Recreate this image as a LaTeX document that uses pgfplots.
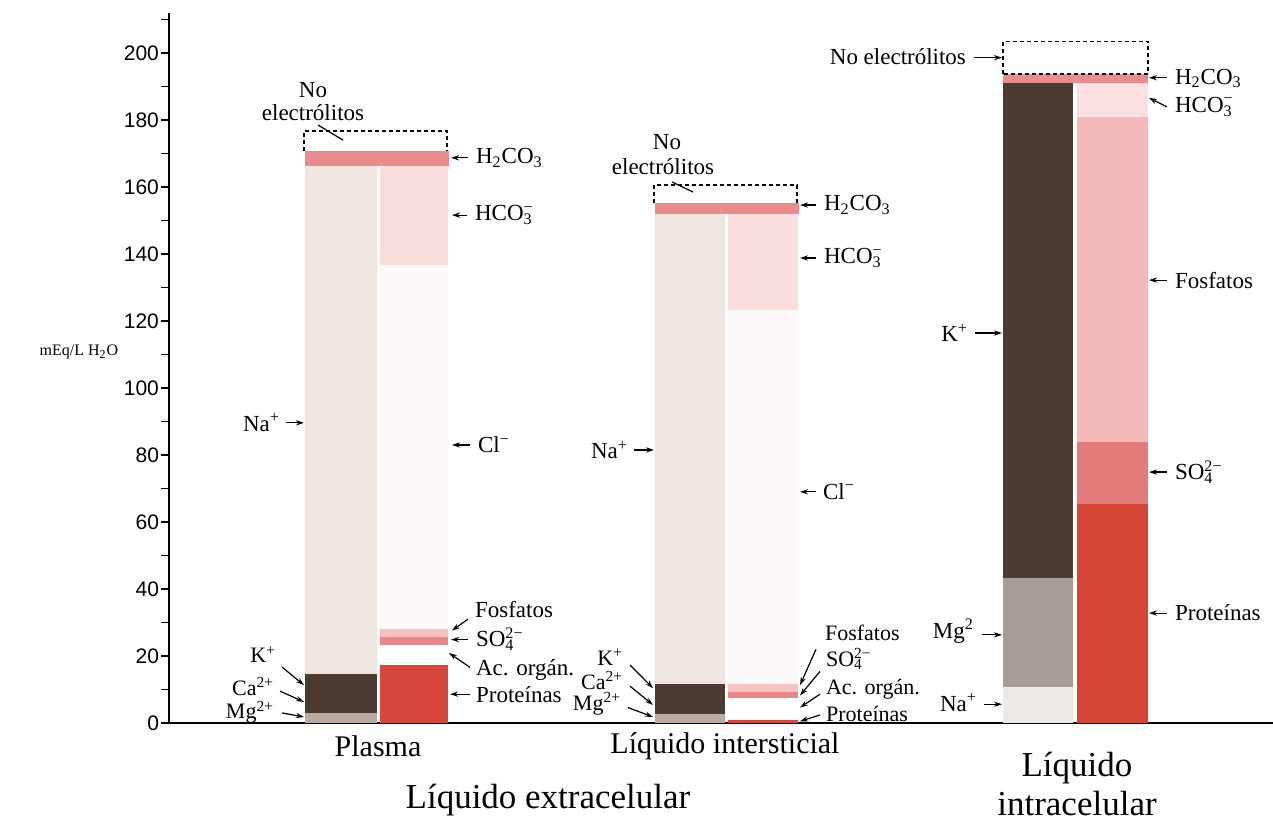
\documentclass[border=0pt]{standalone}
\usepackage{pgfplots}
\pgfplotsset{compat=1.18}
\usepackage{fontspec}
\setmainfont{Liberation Serif}
\newfontfamily\sansfont{Liberation Sans}
\usetikzlibrary{arrows.meta}

\definecolor{naC}{HTML}{EFE6E0}
\definecolor{darkC}{HTML}{4B3B32}
\definecolor{mgC}{HTML}{B9ABA3}
\definecolor{mgI}{HTML}{A79D97}
\definecolor{naI}{HTML}{EFE9E5}
\definecolor{protC}{HTML}{D8473D}
\definecolor{protI}{HTML}{D44535}
\definecolor{so4C}{HTML}{EA8589}
\definecolor{so4I}{HTML}{E27C7C}
\definecolor{fosC}{HTML}{F6C2C2}
\definecolor{fosI}{HTML}{F4B9B9}
\definecolor{clC}{HTML}{FDF9F8}
\definecolor{hco3C}{HTML}{FADDDD}
\definecolor{hco3I}{HTML}{FAE0E0}
\definecolor{h2co3C}{HTML}{EA8C8E}

\newcommand{\seg}[5]{\addplot[draw=none,fill=#5,forget plot] coordinates {(#1,#3) (#2,#3) (#2,#4) (#1,#4)} -- cycle;}
\newcommand{\lbl}{\fontsize{11.5}{11.5}\selectfont}
\newcommand{\lbs}{\fontsize{11}{11}\selectfont}
\newcommand{\sob}{SO\rlap{\textsubscript{4}}\textsuperscript{2−}}
\newcommand{\hco}{HCO\rlap{\textsubscript{3}}\textsuperscript{−}}
\newcommand{\hdos}{H\textsubscript{2}CO\textsubscript{3}}

\tikzset{arr/.style={line width=0.6pt,-{Stealth[length=4pt,width=2.6pt]}}}

\begin{document}
\begin{tikzpicture}
\path[use as bounding box] (0,0) rectangle (636.5pt,411pt);
\begin{axis}[
  at={(84.5pt,49.5pt)}, anchor=south west,
  scale only axis, width=552pt, height=355.1pt,
  xmin=169, xmax=1273, ymin=0, ymax=212,
  clip=false,
  axis lines*=left,
  axis line style={-},
  x axis line style={line width=0.7pt},
  y axis line style={line width=1pt},
  xtick=\empty,
  ytick={0,20,...,200},
  minor ytick={10,30,...,210},
  tick align=outside,
  major tick length=4pt, minor tick length=4pt,
  tick style={black, line width=0.8pt},
  /pgf/number format/assume math mode=true,
  yticklabel style={font=\sansfont\fontsize{10.5}{12}\selectfont, xshift=2.5pt},
]
% ---------- Plasma ----------
\seg{305}{377}{0}{3}{mgC}
\seg{305}{377}{3}{14.6}{darkC}
\seg{305}{377}{14.6}{166.3}{naC}
\seg{380}{448}{0}{17.3}{protC}
\seg{380}{448}{23.3}{25.8}{so4C}
\seg{380}{448}{25.8}{28.2}{fosC}
\seg{380}{448}{28.2}{136.7}{clC}
\seg{380}{448}{136.7}{166.3}{hco3C}
\seg{305}{449}{166.3}{170.8}{h2co3C}
\addplot[black, line width=0.7pt, dash pattern=on 2pt off 1.5pt, forget plot] coordinates {(304,170.8) (304,176.7) (447,176.7) (447,170.8)};
% ---------- Intersticial ----------
\seg{655}{725}{0}{2.7}{mgC}
\seg{655}{725}{2.7}{11.6}{darkC}
\seg{655}{725}{11.6}{151.8}{naC}
\seg{728}{798}{0}{1.0}{protC}
\seg{728}{798}{7.5}{9.2}{so4C}
\seg{728}{798}{9.2}{11.6}{fosC}
\seg{728}{798}{11.6}{123.3}{clC}
\seg{728}{798}{123.3}{151.8}{hco3C}
\seg{655}{799}{151.8}{155.1}{h2co3C}
\addplot[black, line width=0.7pt, dash pattern=on 2pt off 1.5pt, forget plot] coordinates {(654,155.1) (654,160.6) (797,160.6) (797,155.1)};
% ---------- Intracelular ----------
\seg{1003}{1073}{0}{10.7}{naI}
\seg{1003}{1073}{10.7}{43.3}{mgI}
\seg{1003}{1073}{43.3}{191.1}{darkC}
\seg{1077}{1148}{0}{65.4}{protI}
\seg{1077}{1148}{65.4}{84}{so4I}
\seg{1077}{1148}{84}{181}{fosI}
\seg{1077}{1148}{181}{191.1}{hco3I}
\seg{1003}{1148}{191.1}{193.7}{h2co3C}
\addplot[black, line width=0.7pt, dash pattern=on 2pt off 1.5pt, forget plot] coordinates {(1003,193.7) (1003,203.4) (1148,203.4) (1148,193.7) (1003,193.7)};

% ---------- Plasma labels ----------
\node[font=\lbl] at (313,189.0) {No};
\node[font=\lbl] at (313,182.1) {electrólitos};
\draw[line width=0.6pt] (318,178.5) -- (343,174.0);
\draw[arr] (468,168.7) -- (451,168.7);
\node[font=\lbl,anchor=west] at (469,168.7) {\hdos};
\draw[arr] (467,151.6) -- (452,151.6);
\node[font=\lbl,anchor=west] at (468,151.6) {\hco};
\draw[arr] (470,83.0) -- (452,83.0);
\node[font=\lbl,anchor=west] at (471,83.0) {Cl\textsuperscript{−}};
\draw[arr] (468,31.0) -- (452,27.6);
\node[font=\lbl,anchor=west] at (468,34.0) {Fosfatos};
\draw[arr] (468,24.9) -- (451,24.9);
\node[font=\lbl,anchor=west] at (469,25.1) {\sob};
\draw[arr] (470,16.6) -- (449,20.9);
\node[font=\lbl,anchor=west] at (469,15.7) {Ac. orgán.};
\draw[arr] (470,8.6) -- (450,8.6);
\node[font=\lbl,anchor=west] at (469,8.6) {Proteínas};
\node[font=\lbl,anchor=east] at (287,89.6) {Na\textsuperscript{+}};
\draw[arr] (286,89.6) -- (304,89.6);
\node[font=\lbs,anchor=east] at (283,20.4) {K\textsuperscript{+}};
\draw[arr] (282,16.7) -- (304,11.3);
\node[font=\lbs,anchor=east] at (281,11.0) {Ca\textsuperscript{2+}};
\draw[arr] (280,9.5) -- (304,6.3);
\node[font=\lbs,anchor=east] at (281,3.2) {Mg\textsuperscript{2+}};
\draw[arr] (282,3.0) -- (304,1.8);

% ---------- Intersticial labels ----------
\node[font=\lbl] at (667,173.4) {No};
\node[font=\lbl] at (663,166.0) {electrólitos};
\draw[line width=0.6pt] (672,161.5) -- (693,158.5);
\draw[arr] (816,154.6) -- (800,154.6);
\node[font=\lbl,anchor=west] at (817,154.6) {\hdos};
\draw[arr] (816,138.8) -- (800,138.8);
\node[font=\lbl,anchor=west] at (817,138.8) {\hco};
\draw[arr] (816,69.0) -- (800,69.0);
\node[font=\lbl,anchor=west] at (816,69.0) {Cl\textsuperscript{−}};
\node[font=\lbl,anchor=east] at (635,81.5) {Na\textsuperscript{+}};
\draw[arr] (634,81.5) -- (654,81.5);
\node[font=\lbs,anchor=east] at (630,19.6) {K\textsuperscript{+}};
\draw[arr] (630,17.3) -- (653,10.4);
\node[font=\lbs,anchor=east] at (630,12.6) {Ca\textsuperscript{2+}};
\draw[arr] (630,11.0) -- (653,5.4);
\node[font=\lbs,anchor=east] at (628,5.6) {Mg\textsuperscript{2+}};
\draw[arr] (628,4.6) -- (653,1.8);
\node[font=\lbs,anchor=west] at (818,27.0) {Fosfatos};
\draw[arr] (816,22.0) -- (800,11.3);
\node[font=\lbs,anchor=west] at (819,19.2) {\sob};
\draw[arr] (820,15.4) -- (800,8.2);
\node[font=\lbs,anchor=west] at (819,10.2) {Ac. orgán.};
\draw[arr] (820,8.6) -- (800,4.6);
\node[font=\lbs,anchor=west] at (819,2.8) {Proteínas};
\draw[arr] (820,2.4) -- (800,0.5);

% ---------- Intracelular labels ----------
\node[font=\lbl,anchor=east] at (973,198.8) {No electrólitos};
\draw[arr] (974,198.6) -- (1002,198.6);
\draw[arr] (1167,192.6) -- (1149,192.6);
\node[font=\lbl,anchor=west] at (1168,192.4) {\hdos};
\draw[arr] (1167,183.9) -- (1149,186.6);
\node[font=\lbl,anchor=west] at (1168,183.9) {\hco};
\draw[arr] (1167,132.2) -- (1149,132.2);
\node[font=\lbl,anchor=west] at (1168,132.2) {Fosfatos};
\node[font=\lbl,anchor=east] at (975,116.4) {K\textsuperscript{+}};
\draw[arr] (975,116.4) -- (1002,116.4);
\draw[arr] (1167,74.9) -- (1149,74.9);
\node[font=\lbl,anchor=west] at (1168,74.9) {\sob};
\draw[arr] (1167,32.8) -- (1149,32.8);
\node[font=\lbl,anchor=west] at (1168,32.8) {Proteínas};
\node[font=\lbl,anchor=east] at (981,27.4) {Mg\textsuperscript{2}};
\draw[arr] (982,26.3) -- (1002,26.3);
\node[font=\lbl,anchor=east] at (984,6.0) {Na\textsuperscript{+}};
\draw[arr] (984,5.6) -- (1002,5.6);

% ---------- bottom and axis labels ----------
\node[font=\fontsize{15}{15}\selectfont] at (378,-6.8) {Plasma};
\node[font=\fontsize{15}{15}\selectfont] at (725,-6.8) {Líquido intersticial};
\node[font=\fontsize{17.5}{17.5}\selectfont] at (548,-23.0) {Líquido extracelular};
\node[font=\fontsize{17.5}{17.5}\selectfont] at (1077,-13.4) {Líquido};
\node[font=\fontsize{17.5}{17.5}\selectfont] at (1077,-23.9) {intracelular};
\node[font=\fontsize{8}{8}\selectfont] at (79,110.7) {mEq/L H\textsubscript{2}O};
\end{axis}
\end{tikzpicture}
\end{document}
